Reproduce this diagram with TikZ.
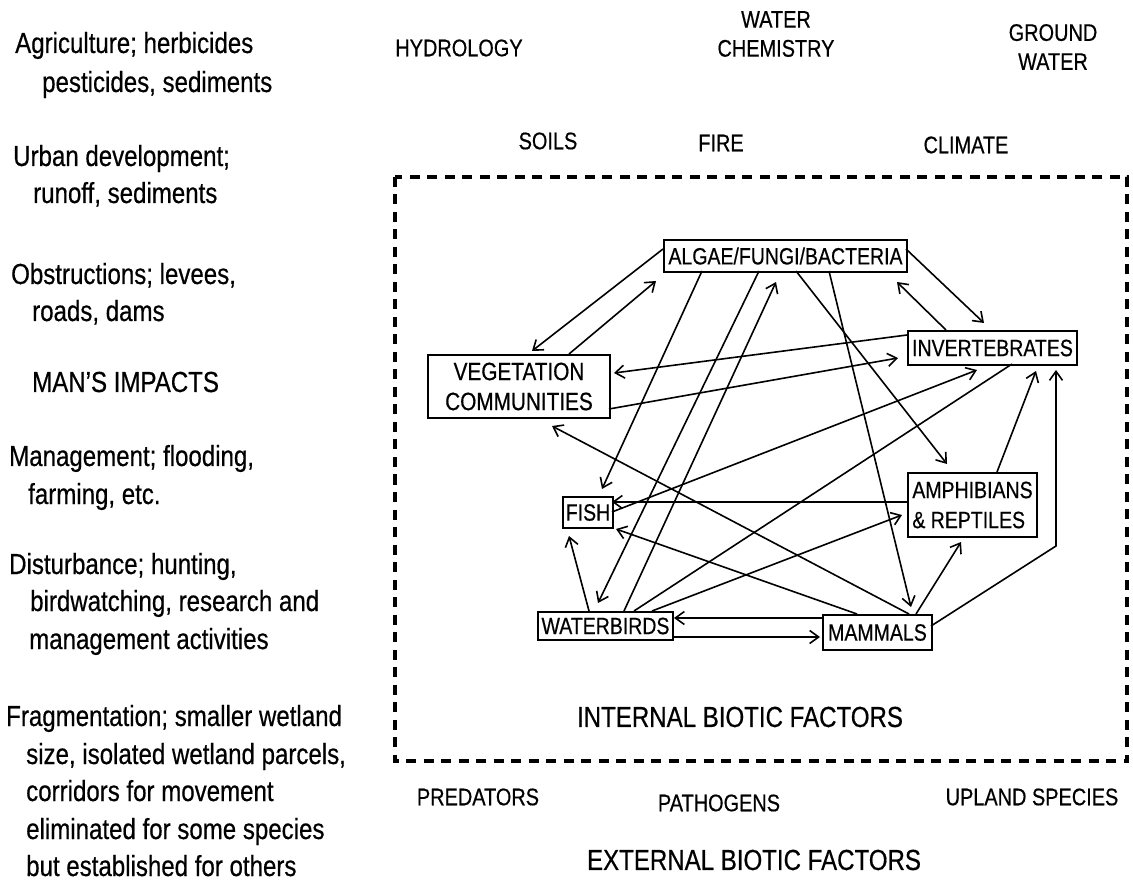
\documentclass[tikz,border=0pt]{standalone}
\usepackage{fontspec}
\setmainfont{Liberation Sans}[FakeStretch=0.83,FakeBold=0.5]
\usetikzlibrary{arrows.meta}
\begin{document}
\begin{tikzpicture}[x=1pt,y=-1pt,
  species/.style={draw, line width=2pt, inner sep=0pt, align=center,
    font=\fontsize{23.5}{30}\selectfont},
  impact/.style={font=\fontsize{29}{37}\selectfont, anchor=base west, inner sep=0pt},
  factor/.style={font=\fontsize{24}{29}\selectfont, inner sep=0pt, align=center},
  heading/.style={font=\fontsize{29}{35}\selectfont, inner sep=0pt},
  link/.style={line width=1.6pt,
    -{Straight Barb[length=9pt,width=13pt,line width=1.6pt]}},
  plain/.style={line width=1.6pt},
  boundary/.style={line width=3.2pt, dash pattern=on 10pt off 7.5pt}
]
\useasboundingbox (0,0) rectangle (1133,890);

% ---- man's impacts (left column) ----
\node[impact] (agr1) at (15,53)  {Agriculture; herbicides};
\node[impact] (agr2) at (42,92)  {pesticides, sediments};
\node[impact] (urb1) at (13,166) {Urban development;};
\node[impact] (urb2) at (33,203) {runoff, sediments};
\node[impact] (obs1) at (11,284) {Obstructions; levees,};
\node[impact] (obs2) at (32,321) {roads, dams};
\node[impact] (mans) at (32,392) {MAN\symbol{39}S IMPACTS};
\node[impact] (mgt1) at (9,466)  {Management; flooding,};
\node[impact] (mgt2) at (28,504) {farming, etc.};
\node[impact] (dst1) at (9,574)  {Disturbance; hunting,};
\node[impact] (dst2) at (30,611) {birdwatching, research and};
\node[impact] (dst3) at (29,649) {management activities};
\node[impact] (frg1) at (6,726)  {Fragmentation; smaller wetland};
\node[impact] (frg2) at (26,764) {size, isolated wetland parcels,};
\node[impact] (frg3) at (26,801) {corridors for movement};
\node[impact] (frg4) at (26,839) {eliminated for some species};
\node[impact] (frg5) at (26,876) {but established for others};

% ---- abiotic factors (top) ----
\node[factor] (hydro) at (459,48)  {HYDROLOGY};
\node[factor] (chem)  at (776,34)  {WATER\\CHEMISTRY};
\node[factor] (gw)    at (1053,47) {GROUND\\WATER};
\node[factor] (soils) at (548,141) {SOILS};
\node[factor] (fire)  at (721,143) {FIRE};
\node[factor] (clim)  at (966,145) {CLIMATE};

% ---- wetland boundary ----
\draw[boundary] (395,177) rectangle (1127,761);
\node[heading] (internal) at (740,717) {INTERNAL BIOTIC FACTORS};

% ---- external biotic factors (bottom) ----
\node[factor] (pred)   at (478,797)  {PREDATORS};
\node[factor] (path)   at (719,803)  {PATHOGENS};
\node[factor] (upland) at (1032,797) {UPLAND SPECIES};
\node[heading] (external) at (754,860) {EXTERNAL BIOTIC FACTORS};

% ---- biotic compartments ----
\node[species, minimum width=243pt, minimum height=32pt] (algae) at (785.5,256) {ALGAE/FUNGI/BACTERIA};
\node[species, minimum width=182pt, minimum height=63pt, font=\fontsize{25}{30}\selectfont] (veg) at (519,386.5) {VEGETATION\\COMMUNITIES};
\node[species, minimum width=169pt, minimum height=34pt] (inv)   at (992.5,348) {INVERTEBRATES};
\node[species, minimum width=50pt,  minimum height=31pt] (fish)  at (588,512.5) {FISH};
\node[species, minimum width=129pt, minimum height=64pt, align=left] (amph) at (972.5,505) {AMPHIBIANS\\\& REPTILES};
\node[species, minimum width=135pt, minimum height=28pt] (wb)    at (605.5,626) {WATERBIRDS};
\node[species, minimum width=109pt, minimum height=35pt] (mam)   at (877.5,632.5) {MAMMALS};

% ---- interactions ----
\draw[link] ([shift={(0,10)}]algae.north west)   -- ([shift={(105,-3)}]veg.north west);
\draw[link] ([shift={(142,0)}]veg.north west)    -- ([shift={(-7,42)}]algae.north west);
\draw[link] ([shift={(39,32)}]algae.north west)  -- ([shift={(40,-7)}]fish.north west);
\draw[link] ([shift={(96,32)}]algae.north west)  -- ([shift={(61,-8)}]wb.north west);
\draw[link] ([shift={(87,0)}]wb.north west)      -- ([shift={(113,43)}]algae.north west);
\draw[link] ([shift={(133,32)}]algae.north west) -- ([shift={(40,-8)}]amph.north west);
\draw[link] ([shift={(166,32)}]algae.north west) -- ([shift={(89,-7)}]mam.north west);
\draw[link] ([shift={(243,10)}]algae.north west) -- ([shift={(77,-7)}]inv.north west);
\draw[link] ([shift={(39,0)}]inv.north west)     -- ([shift={(234,43)}]algae.north west);
\draw[link] ([shift={(0,5)}]inv.north west)      -- ([shift={(187,19)}]veg.north west);
\draw[link] ([shift={(182,55)}]veg.north west)   -- ([shift={(-9,28)}]inv.north west);
\draw[link] ([shift={(50,16)}]fish.north west)   -- ([shift={(70,40)}]inv.north west);
\draw[plain] ([shift={(97,0)}]wb.north west)     -- ([shift={(105,34)}]inv.north west);
\draw[link] ([shift={(115,0)}]wb.north west)     -- ([shift={(-5,43)}]amph.north west);
\draw[link] ([shift={(0,30)}]amph.north west)    -- ([shift={(50,6)}]fish.north west);
\draw[link] ([shift={(87,0)}]mam.north west)     -- ([shift={(125,72)}]veg.north west);
\draw[link] ([shift={(35,0)}]mam.north west)     -- ([shift={(54,33)}]fish.north west);
\draw[link] ([shift={(52,0)}]wb.north west)      -- ([shift={(7,40)}]fish.north west);
\draw[link] ([shift={(0,4)}]mam.north west)      -- ([shift={(137,7)}]wb.north west);
\draw[link] ([shift={(135,26)}]wb.north west)    -- ([shift={(-2,23)}]mam.north west);
\draw[link] ([shift={(94,0)}]mam.north west)     -- ([shift={(54,70)}]amph.north west);
\draw[link] ([shift={(90,0)}]amph.north west)    -- ([shift={(129,41)}]inv.north west);
\draw[link] ([shift={(109,12)}]mam.north west)   -- ([shift={(149,216)}]inv.north west)
                                                 -- ([shift={(149,40)}]inv.north west);
\end{tikzpicture}
\end{document}
